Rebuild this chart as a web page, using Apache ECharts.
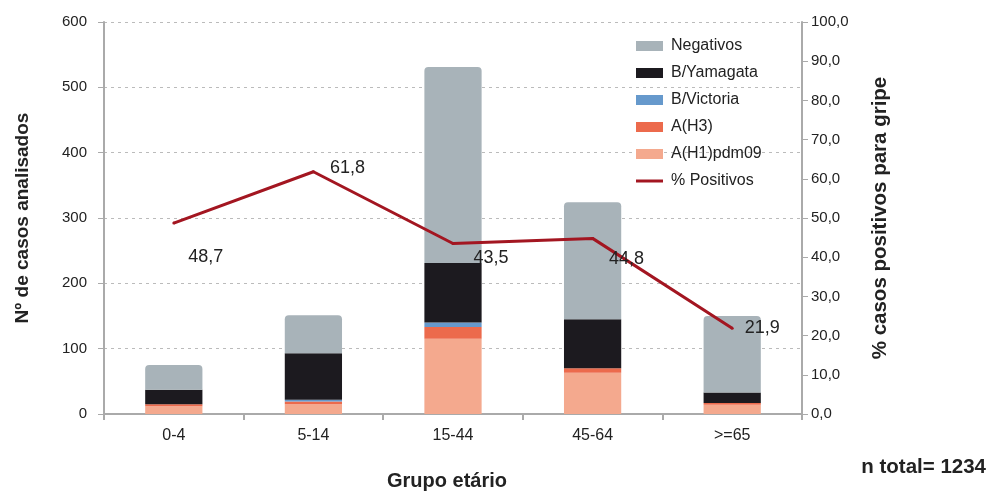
<!DOCTYPE html>
<html><head><meta charset="utf-8">
<script src="https://cdn.jsdelivr.net/npm/echarts@6/dist/echarts.min.js"></script>
<style>html,body{margin:0;padding:0;background:#fff}#c{width:990px;height:491px}</style>
</head><body><div id="c"></div>
<script>
var categories = ['0-4', '5-14', '15-44', '45-64', '>=65'];
var h1pdm09 = [12, 15, 115, 63, 14];
var h3 = [3, 4, 18, 7, 3];
var bVictoria = [0, 3, 7, 0, 0];
var bYamagata = [22, 71, 91, 75, 16];
var negativos = [38, 58, 300, 179, 117];
var pctPositivos = [48.7, 61.8, 43.5, 44.8, 21.9];
var leftTicks = [0, 100, 200, 300, 400, 500, 600];
var rightTicks = [0, 10, 20, 30, 40, 50, 60, 70, 80, 90, 100];

var labelOffsets = [[8, 34], [10, -4], [14, 15], [10, 21], [6, 0]];

var FONT = 'Liberation Sans, Arial, sans-serif';
var chart = echarts.init(document.getElementById('c'));
function bar(name, data, color, extra) {
  var s = {name: name, type: 'bar', stack: 'a', data: data, barWidth: '41%',
    itemStyle: {color: color}, emphasis: {disabled: true}};
  if (extra) Object.assign(s.itemStyle, extra);
  return s;
}
chart.setOption({
  animation: false,
  textStyle: {fontFamily: FONT},
  grid: {left: 104, right: 188, top: 22, bottom: 77, outerBoundsMode: 'none', containLabel: false},
  legend: {
    orient: 'vertical', left: 631, top: 33, itemWidth: 27, itemHeight: 10, itemGap: 11,
    symbolKeepAspect: true,
    textStyle: {fontFamily: FONT, fontSize: 16, color: '#222', padding: [0, 0, 0, 3]},
    data: [
      {name: 'Negativos', icon: 'rect'}, {name: 'B/Yamagata', icon: 'rect'},
      {name: 'B/Victoria', icon: 'rect'}, {name: 'A(H3)', icon: 'rect'},
      {name: 'A(H1)pdm09', icon: 'rect'},
      {name: '% Positivos', icon: 'path://M0 0H27V3H0Z'}
    ]
  },
  xAxis: {
    type: 'category', data: categories,
    name: 'Grupo etário', nameLocation: 'middle', nameGap: 57,
    nameTextStyle: {fontFamily: FONT, fontSize: 20, fontWeight: 'bold', color: '#222', padding: [0, 12, 0, 0]},
    axisLine: {lineStyle: {color: '#aaa', width: 2}},
    axisTick: {show: true, length: 6, lineStyle: {color: '#aaa', width: 2}},
    axisLabel: {fontFamily: FONT, fontSize: 16, color: '#222', margin: 14}
  },
  yAxis: [{
    type: 'value', min: 0, max: 600, interval: 100,
    name: 'Nº de casos analisados', nameLocation: 'middle', nameGap: 72, nameRotate: 90,
    nameTextStyle: {fontFamily: FONT, fontSize: 19, fontWeight: 'bold', color: '#222'},
    axisLine: {show: true, lineStyle: {color: '#aaa', width: 2}},
    axisTick: {show: true, length: 6, lineStyle: {color: '#aaa'}},
    axisLabel: {fontFamily: FONT, fontSize: 15, color: '#222', margin: 17,
      formatter: function (v) { return leftTicks.indexOf(v) >= 0 ? String(v) : ''; }},
    splitLine: {show: true, lineStyle: {color: '#bbb', type: [3, 4]}}
  }, {
    type: 'value', min: 0, max: 100, interval: 10, position: 'right',
    name: '% casos positivos para gripe', nameLocation: 'middle', nameGap: 68, nameRotate: 90,
    nameTextStyle: {fontFamily: FONT, fontSize: 20.5, fontWeight: 'bold', color: '#222'},
    axisLine: {show: true, lineStyle: {color: '#aaa', width: 2}},
    axisTick: {show: true, length: 6, lineStyle: {color: '#aaa'}},
    axisLabel: {fontFamily: FONT, fontSize: 15, color: '#222', margin: 9,
      formatter: function (v) { return rightTicks.indexOf(v) >= 0 ? v.toFixed(1).replace('.', ',') : ''; }},
    splitLine: {show: false}
  }],
  graphic: [{
    type: 'text', right: 4, top: 457,
    style: {text: 'n total= 1234', font: 'bold 20.5px ' + FONT, fill: '#222'}
  }],
  series: [
    bar('A(H1)pdm09', h1pdm09, '#f4a98e'),
    bar('A(H3)', h3, '#ec6a4c'),
    bar('B/Victoria', bVictoria, '#6699cc'),
    bar('B/Yamagata', bYamagata, '#1c1a1f'),
    bar('Negativos', negativos, '#a8b3b9', {borderRadius: [4, 4, 0, 0]}),
    {
      name: '% Positivos', type: 'line', yAxisIndex: 1, symbol: 'circle', symbolSize: 3,
      showSymbol: true,
      lineStyle: {color: '#a31621', width: 3}, itemStyle: {color: '#a31621'},
      emphasis: {disabled: true},
      data: pctPositivos.map(function (v, i) {
        return {value: v, label: {offset: labelOffsets[i]}};
      }),
      label: {show: true, position: 'right', fontFamily: FONT, fontSize: 18, color: '#222',
        formatter: function (p) { return p.value.toFixed(1).replace('.', ','); }}
    }
  ]
});
</script></body></html>
